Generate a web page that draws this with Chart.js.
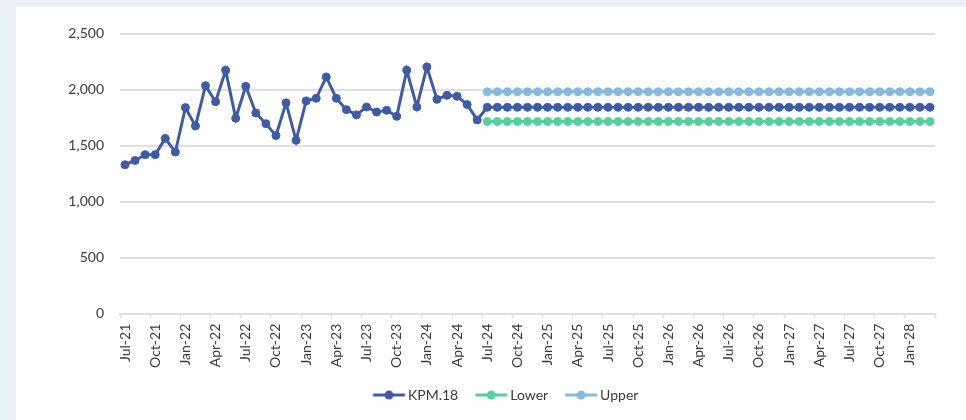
<!DOCTYPE html>
<html>
<head>
<meta charset="utf-8">
<script src="https://cdn.jsdelivr.net/npm/chart.js@4"></script>
<style>
  html, body { margin: 0; padding: 0; }
  body { width: 966px; height: 420px; background: #eaf1f9; position: relative; overflow: hidden; }
  .panel { position: absolute; left: 16px; top: 7px; width: 950px; height: 413px; background: #fff; }
  canvas { display: block; }
</style>
</head>
<body>
<div class="panel"><canvas id="kpmChart" width="950" height="413"></canvas></div>
<script>
// ── Data ──

const months = [
  'Jul-21', 'Aug-21', 'Sep-21', 'Oct-21', 'Nov-21', 'Dec-21',
  'Jan-22', 'Feb-22', 'Mar-22', 'Apr-22', 'May-22', 'Jun-22', 'Jul-22', 'Aug-22', 'Sep-22', 'Oct-22', 'Nov-22', 'Dec-22',
  'Jan-23', 'Feb-23', 'Mar-23', 'Apr-23', 'May-23', 'Jun-23', 'Jul-23', 'Aug-23', 'Sep-23', 'Oct-23', 'Nov-23', 'Dec-23',
  'Jan-24', 'Feb-24', 'Mar-24', 'Apr-24', 'May-24', 'Jun-24', 'Jul-24', 'Aug-24', 'Sep-24', 'Oct-24', 'Nov-24', 'Dec-24',
  'Jan-25', 'Feb-25', 'Mar-25', 'Apr-25', 'May-25', 'Jun-25', 'Jul-25', 'Aug-25', 'Sep-25', 'Oct-25', 'Nov-25', 'Dec-25',
  'Jan-26', 'Feb-26', 'Mar-26', 'Apr-26', 'May-26', 'Jun-26', 'Jul-26', 'Aug-26', 'Sep-26', 'Oct-26', 'Nov-26', 'Dec-26',
  'Jan-27', 'Feb-27', 'Mar-27', 'Apr-27', 'May-27', 'Jun-27', 'Jul-27', 'Aug-27', 'Sep-27', 'Oct-27', 'Nov-27', 'Dec-27',
  'Jan-28', 'Feb-28', 'Mar-28',
];

// actuals Jul-21 .. Jul-24, then flat projection to Mar-28
const kpm18 = [
  1330, 1368, 1420, 1420, 1565, 1443, 1840, 1676, 2036, 1893, 2173, 1745, 2030,
  1792, 1697, 1590, 1882, 1548, 1900, 1923, 2114, 1923, 1822, 1775, 1846, 1801,
  1816, 1762, 2173, 1846, 2203, 1914, 1950, 1941, 1867, 1730, 1843,
  1843, 1843, 1843, 1843, 1843, 1843, 1843, 1843, 1843, 1843, 1843, 1843, 1843, 1843, 1843,
  1843, 1843, 1843, 1843, 1843, 1843, 1843, 1843, 1843, 1843, 1843, 1843, 1843, 1843, 1843,
  1843, 1843, 1843, 1843, 1843, 1843, 1843, 1843, 1843, 1843, 1843, 1843, 1843, 1843,
];

// band starts at Jul-24
const bandMonths = months.slice(36);
const lower = [
  1716, 1716, 1716, 1716, 1716, 1716, 1716, 1716, 1716, 1716, 1716, 1716, 1716, 1716, 1716,
  1716, 1716, 1716, 1716, 1716, 1716, 1716, 1716, 1716, 1716, 1716, 1716, 1716, 1716, 1716,
  1716, 1716, 1716, 1716, 1716, 1716, 1716, 1716, 1716, 1716, 1716, 1716, 1716, 1716, 1716,
];
const upper = [
  1982, 1982, 1982, 1982, 1982, 1982, 1982, 1982, 1982, 1982, 1982, 1982, 1982, 1982, 1982,
  1982, 1982, 1982, 1982, 1982, 1982, 1982, 1982, 1982, 1982, 1982, 1982, 1982, 1982, 1982,
  1982, 1982, 1982, 1982, 1982, 1982, 1982, 1982, 1982, 1982, 1982, 1982, 1982, 1982, 1982,
];

const yTicks = [0, 500, 1000, 1500, 2000, 2500];

// ── Style ──

const C = { kpm: '#3f5ba8', lower: '#55d09c', upper: '#85b9df', grid: '#e0e0e0', text: '#3a3a3a' };
const FONT = "Lato, 'Open Sans', sans-serif";
const LEGEND_X = 354; // first legend box, canvas px

// line + dot swatch; drawn centred on the 31px legend box but nudged right
const legendSwatch = color => {
  const cv = document.createElement('canvas');
  cv.width = 50; cv.height = 12;
  const g = cv.getContext('2d');
  g.strokeStyle = color; g.lineWidth = 3; g.lineCap = 'butt';
  g.beginPath(); g.moveTo(12.5, 6); g.lineTo(44.5, 6); g.stroke();
  g.fillStyle = color;
  g.beginPath(); g.arc(28.5, 6, 4.5, 0, Math.PI * 2); g.fill();
  return cv;
};

const series = (label, data, color) => ({
  label, data,
  borderColor: color, backgroundColor: color,
  pointBackgroundColor: color, pointBorderColor: color,
  borderWidth: 3, pointRadius: 4, pointBorderWidth: 1,
  tension: 0, pointStyle: 'circle',
});

// legend is centred on the canvas by default; move its first box to LEGEND_X
const legendShift = {
  id: 'legendShift',
  afterLayout(chart) {
    const lg = chart.legend;
    if (!lg || !lg.lineWidths) return;
    const pad = lg.options.labels.padding;
    const x0 = (lg.left + pad + lg.right - lg.lineWidths[0]) / 2;
    const dx = LEGEND_X - x0;
    lg.left += dx;
    lg.right += dx;
  },
};

// ── Chart ──

new Chart(document.getElementById('kpmChart'), {
  type: 'line',
  data: {
    labels: months,
    datasets: [
      series('KPM.18', kpm18, C.kpm),
      series('Lower', bandMonths.map((m, i) => ({ x: m, y: lower[i] })), C.lower),
      series('Upper', bandMonths.map((m, i) => ({ x: m, y: upper[i] })), C.upper),
    ],
  },
  plugins: [legendShift],
  options: {
    responsive: false,
    animation: false,
    layout: { padding: { top: 26.7, right: 31, bottom: 8, left: 0 } },
    plugins: {
      tooltip: { enabled: false },
      legend: {
        position: 'bottom',
        labels: {
          color: C.text,
          font: { family: FONT, size: 14 },
          usePointStyle: true,
          pointStyleWidth: 31,
          padding: 14,
          generateLabels: chart => chart.data.datasets.map((ds, i) => ({
            text: ds.label,
            pointStyle: legendSwatch(ds.borderColor),
            fillStyle: ds.borderColor,
            strokeStyle: ds.borderColor,
            lineWidth: 0,
            fontColor: C.text,
            hidden: false,
            datasetIndex: i,
          })),
        },
      },
    },
    scales: {
      x: {
        type: 'category',
        offset: true,
        afterFit: s => { s.height = 60.3; },
        border: { color: C.grid, width: 2 },
        grid: {
          offset: true,
          drawOnChartArea: false,
          drawTicks: true,
          tickLength: 5,
          tickWidth: 1.5,
          tickColor: ctx => (ctx.index === undefined || ctx.index % 3 === 0) ? C.grid : 'rgba(0,0,0,0)',
        },
        ticks: {
          autoSkip: false,
          maxRotation: 90,
          minRotation: 90,
          padding: 5,
          color: C.text,
          font: { family: FONT, size: 14 },
          callback: (v, i) => i % 3 === 0 ? months[i] : '',
        },
      },
      y: {
        min: yTicks[0],
        max: yTicks[yTicks.length - 1],
        afterFit: s => { s.width = 104; },
        afterBuildTicks: s => { s.ticks = yTicks.map(v => ({ value: v })); },
        border: { display: false },
        grid: { color: C.grid, lineWidth: 2, drawTicks: false },
        ticks: {
          padding: 16,
          color: C.text,
          font: { family: FONT, size: 14 },
          callback: v => v.toLocaleString('en-US'),
        },
      },
    },
  },
});
</script>
</body>
</html>
